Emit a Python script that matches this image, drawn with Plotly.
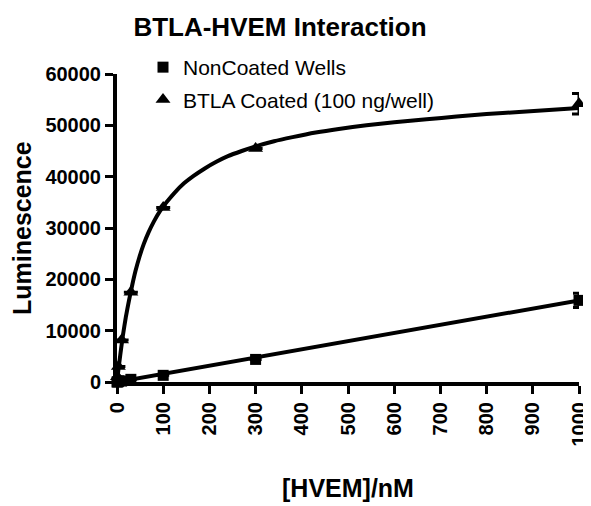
import plotly.graph_objects as go

# ---- data ----
conc = [0, 1, 3, 10, 30, 100, 300, 1000]
noncoated = [0, 20, 60, 180, 520, 1300, 4400, 15900]
noncoated_err = [None, None, None, None, None, None, None, 1400]
btla = [300, 1000, 3000, 8200, 17500, 34000, 45500, 54200]
btla_err = [None, None, None, None, None, None, None, 2000]

# fitted curves
fit_nc_x = [0, 1000]
fit_nc_y = [0, 15900]
fit_btla_x = [0, 2, 5, 9, 13, 19, 26, 33, 40, 49, 58, 68, 80, 93, 108, 125, 145, 165, 190,
              215, 240, 270, 300, 340, 380, 430, 480, 540, 600, 670, 735, 800, 870, 935, 1000]
fit_btla_y = [0, 1600, 3800, 6600, 9200, 12600, 15900, 18900, 21600, 24500, 26900, 29100,
              31300, 33300, 35100, 36900, 38700, 40100, 41600, 42900, 44000, 45000, 45900,
              46900, 47700, 48600, 49300, 50000, 50600, 51200, 51700, 52200, 52600, 53000, 53400]

x_ticks = list(range(0, 1001, 100))
y_ticks = list(range(0, 60001, 10000))

FONT = "Liberation Sans, Arial, sans-serif"

# the page body has an 8px margin: the figure is sized/offset to compensate
W, H = 583, 498
L, T, R, B = 109, 66, 12, 124
PW, PH = W - L - R, H - T - B

fig = go.Figure()

fig.add_trace(go.Scatter(x=fit_nc_x, y=fit_nc_y, mode="lines",
                         line=dict(color="black", width=4), showlegend=False,
                         hoverinfo="skip", cliponaxis=False))
fig.add_trace(go.Scatter(x=fit_btla_x, y=fit_btla_y, mode="lines",
                         line=dict(color="black", width=4, shape="spline", smoothing=0.5),
                         showlegend=False, hoverinfo="skip", cliponaxis=False))

fig.add_trace(go.Scatter(
    x=conc, y=noncoated, mode="markers", name="NonCoated Wells", legendgroup="a",
    marker=dict(symbol="square", size=11, color="black"),
    error_y=dict(type="data", array=noncoated_err, visible=True, color="black",
                 thickness=3, width=6),
    cliponaxis=False))
fig.add_trace(go.Scatter(
    x=conc, y=btla, mode="markers", name="BTLA Coated (100 ng/well)", legendgroup="b",
    marker=dict(symbol="triangle-up", size=13, color="black"),
    error_y=dict(type="data", array=btla_err, visible=True, color="black",
                 thickness=3, width=7),
    cliponaxis=False))

fig.update_layout(
    width=W, height=H,
    margin=dict(l=L, r=R, t=T, b=B, autoexpand=False),
    paper_bgcolor="white", plot_bgcolor="white",
    font=dict(family=FONT, color="black"),
    title=dict(text="<b>BTLA-HVEM Interaction</b>", x=272 / W, xanchor="center",
               y=1 - 19 / H, yanchor="middle", xref="container", yref="container",
               font=dict(size=26, family=FONT)),
    legend=dict(x=135 / W, y=1 - 39 / H, xanchor="left", yanchor="top",
                xref="container", yref="container",
                font=dict(size=21, family=FONT), bgcolor="rgba(0,0,0,0)",
                tracegroupgap=2, itemsizing="trace"),
    showlegend=True,
    annotations=[
        dict(text="<b>Luminescence</b>", textangle=-90, xref="paper", yref="paper",
             x=(14 - L) / PW, y=0.5, xanchor="center", yanchor="middle", showarrow=False,
             font=dict(size=25, family=FONT)),
        dict(text="<b>[HVEM]/nM</b>", xref="paper", yref="paper",
             x=0.5, y=-(480 - (T + PH)) / PH, xanchor="center", yanchor="middle",
             showarrow=False, font=dict(size=25, family=FONT)),
    ],
)

fig.update_xaxes(
    range=[0, 1000], tickvals=x_ticks, ticktext=[str(v) for v in x_ticks],
    tickangle=-90, ticks="outside", ticklen=8, tickwidth=3, tickcolor="black",
    showline=True, linewidth=4, linecolor="black", showgrid=False, zeroline=False,
    tickfont=dict(size=20, family=FONT, weight="bold"), automargin=False,
)
fig.update_yaxes(
    range=[0, 60000], tickvals=y_ticks, ticktext=[str(v) for v in y_ticks],
    ticks="outside", ticklen=8, tickwidth=3, tickcolor="black",
    showline=True, linewidth=4, linecolor="black", showgrid=False, zeroline=False,
    tickfont=dict(size=20, family=FONT, weight="bold"), automargin=False,
)

fig.write_html("out.html")
